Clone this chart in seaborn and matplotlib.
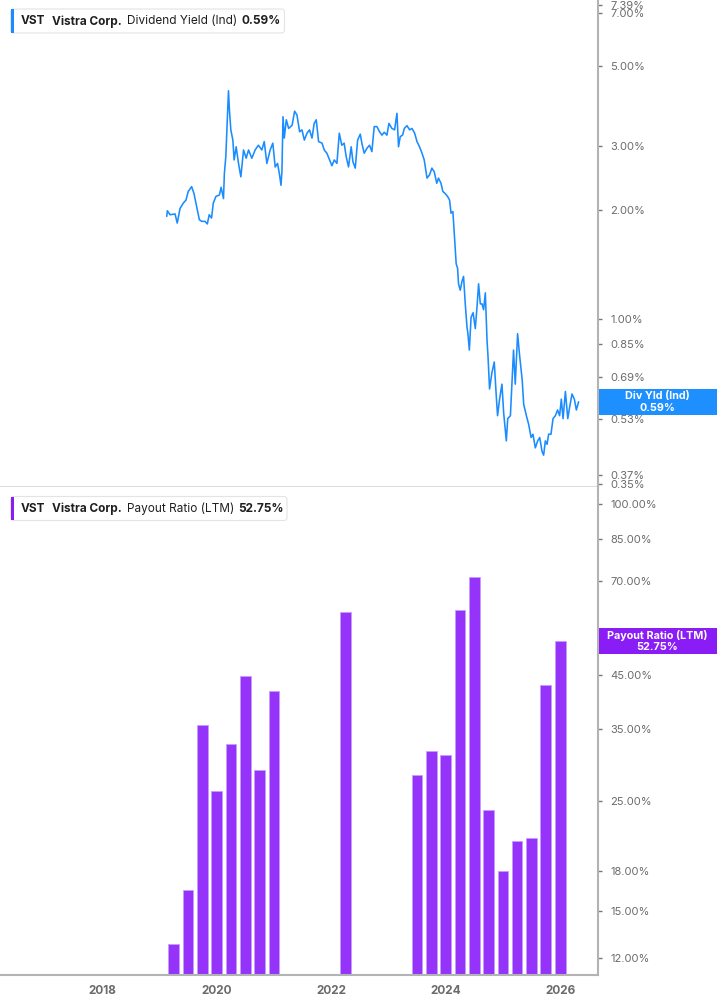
import pandas as pd
import matplotlib.pyplot as plt
import matplotlib.dates as mdates
from matplotlib.patches import Rectangle, FancyBboxPatch
import seaborn as sns

# Dividend yield (Ind), %
yield_dates = [
    "2019-02-15", "2019-02-19", "2019-03-08", "2019-04-09", "2019-04-23", "2019-05-11",
    "2019-06-01", "2019-06-18", "2019-07-02", "2019-07-24", "2019-08-08", "2019-08-25",
    "2019-09-11", "2019-09-26", "2019-10-17", "2019-11-01", "2019-11-13", "2019-11-28",
    "2019-12-09", "2019-12-26", "2020-01-17", "2020-01-28", "2020-02-12", "2020-02-18",
    "2020-02-27", "2020-03-05", "2020-03-15", "2020-03-21", "2020-03-30", "2020-04-12",
    "2020-04-20", "2020-05-03", "2020-05-18", "2020-06-02", "2020-06-19", "2020-07-06",
    "2020-07-21", "2020-08-11", "2020-09-01", "2020-09-22", "2020-10-14", "2020-10-29",
    "2020-11-15", "2020-12-06", "2020-12-23", "2021-01-07", "2021-01-22", "2021-02-04",
    "2021-02-13", "2021-02-19", "2021-02-26", "2021-03-06", "2021-03-19", "2021-04-03",
    "2021-04-25", "2021-05-11", "2021-05-26", "2021-06-12", "2021-06-27", "2021-07-12",
    "2021-07-29", "2021-08-14", "2021-08-30", "2021-09-13", "2021-09-26", "2021-10-11",
    "2021-11-02", "2021-11-16", "2021-12-03", "2021-12-20", "2022-01-04", "2022-01-19",
    "2022-02-05", "2022-02-20", "2022-03-08", "2022-03-23", "2022-04-05", "2022-04-20",
    "2022-05-07", "2022-05-18", "2022-06-02", "2022-06-17", "2022-07-04", "2022-07-14",
    "2022-07-29", "2022-08-15", "2022-09-01", "2022-09-16", "2022-10-01", "2022-10-18",
    "2022-11-04", "2022-11-19", "2022-12-04", "2022-12-21", "2023-01-03", "2023-01-22",
    "2023-02-08", "2023-02-23", "2023-03-05", "2023-03-16", "2023-03-31", "2023-04-11",
    "2023-04-28", "2023-05-15", "2023-05-30", "2023-06-16", "2023-07-01", "2023-07-17",
    "2023-08-02", "2023-08-16", "2023-09-03", "2023-09-19", "2023-10-04", "2023-10-19",
    "2023-11-04", "2023-11-15", "2023-12-01", "2023-12-13", "2023-12-28", "2024-01-12",
    "2024-01-25", "2024-02-03", "2024-02-15", "2024-02-24", "2024-03-01", "2024-03-07",
    "2024-03-16", "2024-03-22", "2024-04-02", "2024-04-13", "2024-04-23", "2024-05-04",
    "2024-05-15", "2024-05-21", "2024-05-30", "2024-06-10", "2024-06-23", "2024-07-07",
    "2024-07-18", "2024-07-28", "2024-08-08", "2024-08-19", "2024-08-29", "2024-09-09",
    "2024-09-20", "2024-09-26", "2024-10-06", "2024-10-21", "2024-11-05", "2024-11-18",
    "2024-11-26", "2024-12-09", "2024-12-24", "2025-01-04", "2025-01-21", "2025-01-30",
    "2025-02-16", "2025-02-27", "2025-03-08", "2025-03-19", "2025-04-03", "2025-04-16",
    "2025-05-02", "2025-05-12", "2025-05-29", "2025-06-13", "2025-06-28", "2025-07-10",
    "2025-07-25", "2025-08-09", "2025-08-22", "2025-09-06", "2025-09-16", "2025-09-27",
    "2025-10-08", "2025-10-18", "2025-11-02", "2025-11-15", "2025-11-30", "2025-12-14",
    "2025-12-27", "2026-01-07", "2026-01-18", "2026-02-02", "2026-02-17", "2026-03-01",
    "2026-03-16", "2026-03-31", "2026-04-13", "2026-04-27",
]
yield_pct = [
    1.92, 1.99, 1.94, 1.95, 1.84, 2.02,
    2.09, 2.13, 2.25, 2.32, 2.22, 2.04,
    1.88, 1.86, 1.86, 1.83, 1.94, 1.90,
    2.09, 2.18, 2.20, 2.31, 2.15, 2.53,
    2.81, 3.33, 4.27, 3.78, 3.33, 3.12,
    2.75, 2.99, 2.69, 2.47, 2.93, 2.78,
    2.93, 2.78, 2.93, 3.02, 2.93, 3.09,
    2.69, 2.93, 3.06, 2.63, 2.69, 2.50,
    2.34, 2.55, 3.62, 3.16, 3.55, 3.36,
    3.43, 3.75, 3.66, 3.29, 3.33, 3.12,
    3.26, 3.33, 3.16, 3.47, 3.55, 3.09,
    3.06, 2.93, 2.87, 2.75, 2.65, 2.75,
    2.69, 3.26, 3.02, 3.06, 2.81, 2.63,
    2.99, 2.72, 2.61, 3.12, 3.24, 3.06,
    2.87, 2.96, 3.02, 2.90, 3.40, 3.40,
    3.29, 3.22, 3.28, 3.22, 3.47, 3.36,
    3.33, 3.70, 2.99, 3.19, 3.22, 3.36,
    3.42, 3.33, 3.36, 3.26, 3.09, 2.99,
    2.87, 2.75, 2.45, 2.50, 2.61, 2.55,
    2.37, 2.45, 2.37, 2.25, 2.22, 2.18,
    2.13, 1.96, 1.98, 1.72, 1.55, 1.42,
    1.38, 1.25, 1.20, 1.27, 1.31, 1.10,
    0.95, 0.91, 0.82, 1.01, 1.04, 0.94,
    1.08, 1.25, 1.10, 1.10, 1.06, 1.18,
    0.87, 0.79, 0.64, 0.71, 0.76, 0.61,
    0.54, 0.60, 0.66, 0.55, 0.46, 0.53,
    0.54, 0.68, 0.82, 0.66, 0.91, 0.79,
    0.68, 0.58, 0.54, 0.51, 0.47, 0.48,
    0.44, 0.46, 0.47, 0.43, 0.42, 0.46,
    0.45, 0.48, 0.48, 0.53, 0.54, 0.56,
    0.54, 0.60, 0.53, 0.63, 0.53, 0.57,
    0.62, 0.60, 0.56, 0.59,
]

# Payout ratio (LTM), %, quarterly
payout_dates = [
    "2019-03-31", "2019-06-30", "2019-09-30", "2019-12-31",
    "2020-03-31", "2020-06-30", "2020-09-30", "2020-12-31",
    "2022-03-31",
    "2023-06-30", "2023-09-30", "2023-12-31",
    "2024-03-31", "2024-06-30", "2024-09-30", "2024-12-31",
    "2025-03-31", "2025-06-30", "2025-09-30", "2025-12-31",
]
payout_pct = [
    12.8, 16.5, 35.6, 26.2,
    32.7, 44.8, 28.9, 41.8,
    60.5,
    28.3, 31.6, 31.0,
    61.0, 71.1, 24.0, 18.0,
    20.8, 21.0, 43.0, 52.75,
]

yield_ticks = [7.39, 7.00, 5.00, 3.00, 2.00, 1.00, 0.85, 0.69, 0.53, 0.37, 0.35]
payout_ticks = [100, 85, 70, 45, 35, 25, 18, 15, 12]

BLUE = "#1a8cff"
PURPLE = "#9633fb"
AXIS_GRAY = "#b3b3b3"
TEXT_GRAY = "#6b6b6b"

yld = pd.DataFrame({"date": pd.to_datetime(yield_dates), "yield": yield_pct})
pay = pd.DataFrame({"date": pd.to_datetime(payout_dates), "payout": payout_pct})

sns.set_theme(style="white")
plt.rcParams["font.family"] = ["Inter", "DejaVu Sans"]

W, H = 717, 1005
fig = plt.figure(figsize=(W / 100, H / 100), dpi=100)
ax1 = fig.add_axes([0, 1 - 487 / H, 598 / W, 487 / H])
ax2 = fig.add_axes([0, 1 - 975 / H, 598 / W, 488 / H], sharex=ax1)

# top panel: dividend yield line
sns.lineplot(data=yld, x="date", y="yield", ax=ax1, color=BLUE, linewidth=1.15)
ax1.set_yscale("log")
ax1.set_ylim(0.343, 7.61)

# bottom panel: payout ratio bars
ax2.bar(pay["date"], pay["payout"], width=68, color=PURPLE,
        edgecolor="#c79bff", linewidth=0.6, zorder=2)
ax2.set_yscale("log")
ax2.set_ylim(11.1, 108.4)

ax2.set_xlim(pd.Timestamp("2016-03-18"), pd.Timestamp("2026-08-29"))
ax2.xaxis.set_major_locator(mdates.YearLocator(2))
ax2.xaxis.set_major_formatter(mdates.DateFormatter("%Y"))

for ax, ticks in [(ax1, yield_ticks), (ax2, payout_ticks)]:
    ax.set_xlabel("")
    ax.set_ylabel("")
    ax.yaxis.tick_right()
    ax.set_yticks(ticks)
    ax.set_yticklabels([f"{t:.2f}%" for t in ticks])
    ax.yaxis.set_minor_locator(plt.NullLocator())
    ax.tick_params(axis="y", which="major", length=3, width=1, color="#777777",
                   labelsize=8, labelcolor=TEXT_GRAY, pad=6)
    for side in ["left", "top"]:
        ax.spines[side].set_visible(False)
    ax.spines["right"].set_color(AXIS_GRAY)
    ax.spines["right"].set_linewidth(1.5)
    ax.set_facecolor("white")

ax1.spines["bottom"].set_color("#dddddd")
ax1.spines["bottom"].set_linewidth(1.5)
ax1.tick_params(axis="x", which="both", length=0, labelbottom=False)

ax2.spines["bottom"].set_color(AXIS_GRAY)
ax2.spines["bottom"].set_linewidth(1.5)
ax2.tick_params(axis="x", which="major", length=4, width=1, color="#999999",
                labelsize=8.5, labelcolor=TEXT_GRAY, pad=3)
for lbl in ax2.get_xticklabels():
    lbl.set_fontweight("bold")


def px(x, y):
    # figure pixels from top-left -> inches from bottom-left
    return x / 100, (H - y) / 100


def legend_box(y_top, width, color, words):
    x0, y0 = px(10.5, y_top + 24)
    fig.patches.append(FancyBboxPatch(
        (x0, y0), width / 100, 24 / 100,
        boxstyle="round,pad=0,rounding_size=0.03", transform=fig.dpi_scale_trans,
        facecolor="white", edgecolor="#e4e4e4", linewidth=0.8, zorder=5))
    ax0, ay0 = px(10.5, y_top + 23.5)
    fig.patches.append(Rectangle((ax0, ay0), 3 / 100, 23 / 100, transform=fig.dpi_scale_trans,
                                 facecolor=color, edgecolor="none", zorder=6))
    for text, xpos, weight in words:
        tx, ty = px(xpos, y_top + 12.5)
        fig.text(tx, ty, text, transform=fig.dpi_scale_trans, fontsize=8.5,
                 fontweight=weight, color="#1f1f1f", va="center", ha="left", zorder=7)


legend_box(9, 274, BLUE, [
    ("VST", 20.5, "bold"), ("Vistra Corp.", 51.5, "bold"),
    ("Dividend Yield (Ind)", 127.5, "normal"), (f"{yield_pct[-1]:.2f}%", 242, "bold")])
legend_box(496.5, 276.5, "#8a1cf5", [
    ("VST", 20.5, "bold"), ("Vistra Corp.", 51.5, "bold"),
    ("Payout Ratio (LTM)", 127.5, "normal"), (f"{payout_pct[-1]:.2f}%", 238, "bold")])


def value_tag(ax, value, line1, line2, color):
    y_disp = ax.transData.transform((0, value))[1]
    yc = H - y_disp
    bx, by = px(598.5, yc + 13)
    fig.patches.append(Rectangle((bx, by), (W - 598.5) / 100, 26 / 100,
                                 transform=fig.dpi_scale_trans, facecolor=color,
                                 edgecolor="none", zorder=8))
    for txt, dy in [(line1, -5.8), (line2, 6.0)]:
        tx, ty = px(657.5, yc + dy)
        fig.text(tx, ty, txt, transform=fig.dpi_scale_trans, fontsize=7.8,
                 fontweight="bold", color="white", ha="center", va="center", zorder=9)


value_tag(ax1, yield_pct[-1], "Div Yld (Ind)", f"{yield_pct[-1]:.2f}%", "#1e8fff")
value_tag(ax2, payout_pct[-1], "Payout Ratio (LTM)", f"{payout_pct[-1]:.2f}%", "#8a1cf5")

fig.savefig("out.png", dpi=100)
